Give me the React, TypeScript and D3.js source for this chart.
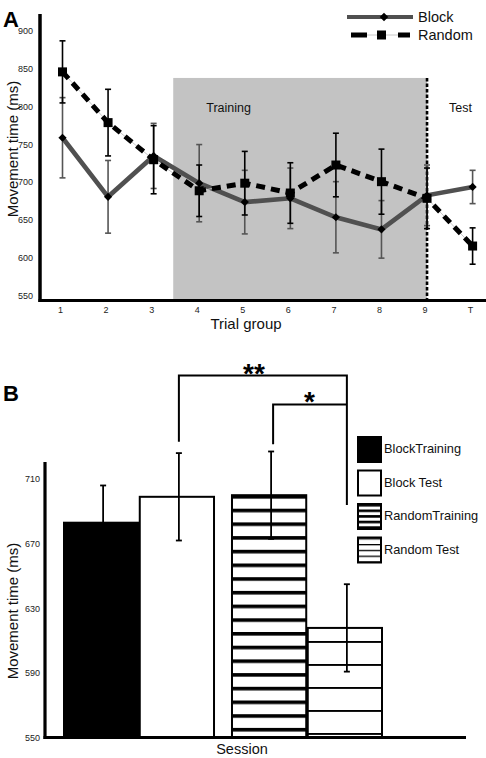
import React from "react";
import * as d3 from "d3";

// ---------- Panel A data ----------
const trialGroups = ["1", "2", "3", "4", "5", "6", "7", "8", "9", "T"];
const blockMeans = [759, 681, 735, 699, 674, 679, 654, 638, 683, 694];
const blockErrors = [53, 48, 43, 51, 42, 40, 47, 38, 40, 22];
const randomMeans = [846, 779, 730, 689, 699, 686, 723, 701, 679, 616];
const randomErrors = [41, 44, 45, 34, 42, 40, 42, 43, 40, 24];
const yTicksA = [550, 600, 650, 700, 750, 800, 850, 900];

// ---------- Panel B data ----------
const sessions = ["BlockTraining", "Block Test", "RandomTraining", "Random Test"];
const sessionGroup = ["Block", "Block", "Random", "Random"];
const sessionPhase = ["Training", "Test", "Training", "Test"];
const sessionMeans = [683, 699, 700, 618];
const sessionErrors = [23, 27, 27, 27];
const yTicksB = [550, 590, 630, 670, 710];

const FONT = "'Liberation Sans', Arial, Helvetica, sans-serif";

export default function App() {
  const W = 486;
  const H = 758;

  // ===== Panel A scales =====
  const xA = d3.scalePoint<string>().domain(trialGroups).range([62.5, 472.6]);
  const yA = d3.scaleLinear().domain([550, 900]).range([296, 31]);
  const stepA = xA.step();
  const px = (i: number) => xA(trialGroups[i]) as number;

  const lineA = d3
    .line<number>()
    .x((_, i) => px(i))
    .y((d) => yA(d));

  const shadeLeft = px(2) + stepA * 0.43;
  const shadeRight = px(8);
  const shadeTop = yA(838);
  const axisAY = 300.5;

  // ===== Panel B scales =====
  const yB = d3.scaleLinear().domain([550, 710]).range([738, 479]);
  const xOuter = d3
    .scaleBand<string>()
    .domain(["Block", "Random"])
    .range([64, 382])
    .paddingInner(0.107)
    .paddingOuter(0);
  const xInner = d3
    .scaleBand<string>()
    .domain(["Training", "Test"])
    .range([0, xOuter.bandwidth()])
    .paddingInner(0.02);
  const barX = (i: number) =>
    (xOuter(sessionGroup[i]) as number) + (xInner(sessionPhase[i]) as number);
  const barW = xInner.bandwidth();
  const barC = (i: number) => barX(i) + barW / 2;
  const axisBY = 737.5;

  const fills = ["#000", "#fff", "url(#hatchThick)", "url(#hatchThin)"];
  const legendFills = ["#000", "#fff", "url(#legThick)", "url(#legThin)"];

  const cap = 3;

  // bracket geometry (in data units)
  const iBT = 1, iRT = 2, iRTest = 3;
  const bigTop = yB(774);
  const smallTop = yB(756);
  const rightX = barC(iRTest) + 2;

  return (
    <svg
      width={W}
      height={H}
      style={{ position: "absolute", left: 0, top: 0, background: "#fff" }}
      fontFamily={FONT}
    >
      <defs>
        <pattern id="hatchThick" patternUnits="userSpaceOnUse" width={10} height={13.7} y={495}>
          <rect x={0} y={0} width={10} height={13.7} fill="#fff" />
          <rect x={0} y={0} width={10} height={3.6} fill="#000" />
        </pattern>
        <pattern id="hatchThin" patternUnits="userSpaceOnUse" width={10} height={23} y={641}>
          <rect x={0} y={0} width={10} height={23} fill="#fff" />
          <rect x={0} y={0} width={10} height={1.9} fill="#000" />
        </pattern>
        <pattern id="legThick" patternUnits="userSpaceOnUse" width={10} height={5.6} y={509.5}>
          <rect x={0} y={0} width={10} height={5.6} fill="#fff" />
          <rect x={0} y={0} width={10} height={2.6} fill="#000" />
        </pattern>
        <pattern id="legThin" patternUnits="userSpaceOnUse" width={10} height={5.8} y={544}>
          <rect x={0} y={0} width={10} height={5.8} fill="#fff" />
          <rect x={0} y={0} width={10} height={1.3} fill="#000" />
        </pattern>
      </defs>

      {/* ================= PANEL A ================= */}
      <text x={3} y={27} fontSize={22} fontWeight="bold" fontFamily={FONT}>
        A
      </text>

      {/* shaded training region */}
      <rect
        x={shadeLeft}
        y={shadeTop}
        width={shadeRight - shadeLeft}
        height={axisAY - shadeTop}
        fill="#c3c3c3"
      />
      <text x={shadeLeft + 33} y={112} fontSize={12.5} fill="#111">
        Training
      </text>
      <text x={shadeRight + 22} y={112} fontSize={12.5} fill="#111">
        Test
      </text>
      {/* dotted boundary */}
      <line
        x1={shadeRight}
        x2={shadeRight}
        y1={shadeTop}
        y2={axisAY}
        stroke="#000"
        strokeWidth={2.6}
        strokeDasharray="3.5,2"
      />

      {/* y ticks A */}
      {yTicksA.map((t) => (
        <text
          key={"ya" + t}
          x={33}
          y={yA(t)}
          fontSize={9}
          textAnchor="end"
          dominantBaseline="central"
          fill="#222"
        >
          {t}
        </text>
      ))}
      {/* x ticks A */}
      {trialGroups.map((g, i) => (
        <text
          key={"xa" + g}
          x={px(i) - 2}
          y={309.5}
          fontSize={9}
          textAnchor="middle"
          dominantBaseline="central"
          fill="#222"
        >
          {g}
        </text>
      ))}

      {/* block error bars */}
      {blockMeans.map((m, i) => {
        const e = blockErrors[i];
        const x = px(i);
        return (
          <g key={"be" + i} stroke="#555" strokeWidth={1.6}>
            <line x1={x} x2={x} y1={yA(m + e)} y2={yA(m - e)} />
            <line x1={x - cap} x2={x + cap} y1={yA(m + e)} y2={yA(m + e)} />
            <line x1={x - cap} x2={x + cap} y1={yA(m - e)} y2={yA(m - e)} />
          </g>
        );
      })}
      {/* random error bars */}
      {randomMeans.map((m, i) => {
        const e = randomErrors[i];
        const x = px(i);
        return (
          <g key={"re" + i} stroke="#000" strokeWidth={1.6}>
            <line x1={x} x2={x} y1={yA(m + e)} y2={yA(m - e)} />
            <line x1={x - cap} x2={x + cap} y1={yA(m + e)} y2={yA(m + e)} />
            <line x1={x - cap} x2={x + cap} y1={yA(m - e)} y2={yA(m - e)} />
          </g>
        );
      })}

      {/* block line */}
      <path d={lineA(blockMeans) || ""} fill="none" stroke="#505050" strokeWidth={4.6} />
      {/* random line */}
      <path d={lineA(randomMeans) || ""} fill="none" stroke="#c8c8c8" strokeWidth={1} />
      <path
        d={lineA(randomMeans) || ""}
        fill="none"
        stroke="#000"
        strokeWidth={5}
        strokeDasharray="9,6"
      />
      {/* markers */}
      {randomMeans.map((m, i) => (
        <rect
          key={"rm" + i}
          x={px(i) - 4.5}
          y={yA(m) - 4.5}
          width={9}
          height={9}
          fill="#000"
        />
      ))}
      {blockMeans.map((m, i) => (
        <rect
          key={"bm" + i}
          x={-2.9}
          y={-2.9}
          width={5.8}
          height={5.8}
          fill="#000"
          transform={`translate(${px(i)},${yA(m)}) rotate(45)`}
        />
      ))}

      {/* axes A */}
      <line x1={40} x2={40} y1={14} y2={axisAY + 1.5} stroke="#000" strokeWidth={3.5} />
      <line x1={38.5} x2={W} y1={axisAY} y2={axisAY} stroke="#000" strokeWidth={3.2} />

      <text x={246} y={329} fontSize={15} textAnchor="middle" fill="#111">
        Trial group
      </text>
      <text
        transform={`translate(18,149) rotate(-90)`}
        fontSize={15}
        textAnchor="middle"
        fill="#111"
      >
        Movement time (ms)
      </text>

      {/* legend A */}
      <line x1={347} x2={413} y1={17} y2={17} stroke="#505050" strokeWidth={4} />
      <rect x={-3} y={-3} width={6} height={6} fill="#000" transform="translate(384,17) rotate(45)" />
      <text x={418} y={17} fontSize={14.5} dominantBaseline="central" fill="#111">
        Block
      </text>
      <line x1={351} x2={410} y1={35} y2={35} stroke="#c8c8c8" strokeWidth={1} />
      <line x1={351} x2={367} y1={35} y2={35} stroke="#000" strokeWidth={5} />
      <line x1={398} x2={410} y1={35} y2={35} stroke="#000" strokeWidth={5} />
      <rect x={377} y={30.5} width={9} height={9} fill="#000" />
      <text x={418} y={35} fontSize={14.5} dominantBaseline="central" fill="#111">
        Random
      </text>

      {/* ================= PANEL B ================= */}
      <text x={3} y={401} fontSize={22} fontWeight="bold" fontFamily={FONT}>
        B
      </text>

      {yTicksB.map((t) => (
        <text
          key={"yb" + t}
          x={40}
          y={yB(t)}
          fontSize={9}
          textAnchor="end"
          dominantBaseline="central"
          fill="#222"
        >
          {t}
        </text>
      ))}

      {/* bars */}
      {sessionMeans.map((m, i) => (
        <rect
          key={"bar" + i}
          x={barX(i)}
          y={yB(m)}
          width={barW}
          height={axisBY - yB(m)}
          fill={fills[i]}
          stroke="#000"
          strokeWidth={2}
        />
      ))}
      {/* error bars B */}
      {sessionMeans.map((m, i) => {
        const e = sessionErrors[i];
        const x = barC(i) + 2;
        return (
          <g key={"eb" + i} stroke="#000" strokeWidth={1.8}>
            <line x1={x} x2={x} y1={yB(m + e)} y2={yB(m - e)} />
            <line x1={x - cap} x2={x + cap} y1={yB(m + e)} y2={yB(m + e)} />
            <line x1={x - cap} x2={x + cap} y1={yB(m - e)} y2={yB(m - e)} />
          </g>
        );
      })}

      {/* significance brackets */}
      <path
        d={`M${barC(iBT) + 2},${yB(733)} V${bigTop} H${rightX} V${yB(694)}`}
        fill="none"
        stroke="#000"
        strokeWidth={2}
      />
      <path
        d={`M${barC(iRT) + 4},${yB(731.5)} V${smallTop} H${rightX}`}
        fill="none"
        stroke="#000"
        strokeWidth={2}
      />
      <text x={254} y={383} fontSize={28} fontWeight="bold" textAnchor="middle">
        **
      </text>
      <text x={309.5} y={411} fontSize={28} fontWeight="bold" textAnchor="middle">
        *
      </text>

      {/* legend B */}
      {sessions.map((s, i) => {
        const y0 = 437 + i * 33.5;
        return (
          <g key={"lb" + i}>
            <rect
              x={358}
              y={y0}
              width={23}
              height={25}
              fill={legendFills[i]}
              stroke="#000"
              strokeWidth={2}
            />
            <text x={384} y={y0 + 11.5} fontSize={12.8} dominantBaseline="central" fill="#111">
              {s}
            </text>
          </g>
        );
      })}

      {/* axes B */}
      <line x1={45} x2={45} y1={462} y2={axisBY + 1.5} stroke="#000" strokeWidth={3.2} />
      <line x1={43.5} x2={466} y1={axisBY} y2={axisBY} stroke="#000" strokeWidth={3.2} />

      <text x={242} y={754} fontSize={14.5} textAnchor="middle" fill="#111">
        Session
      </text>
      <text
        transform={`translate(18,611) rotate(-90)`}
        fontSize={15}
        textAnchor="middle"
        fill="#111"
      >
        Movement time (ms)
      </text>
    </svg>
  );
}
